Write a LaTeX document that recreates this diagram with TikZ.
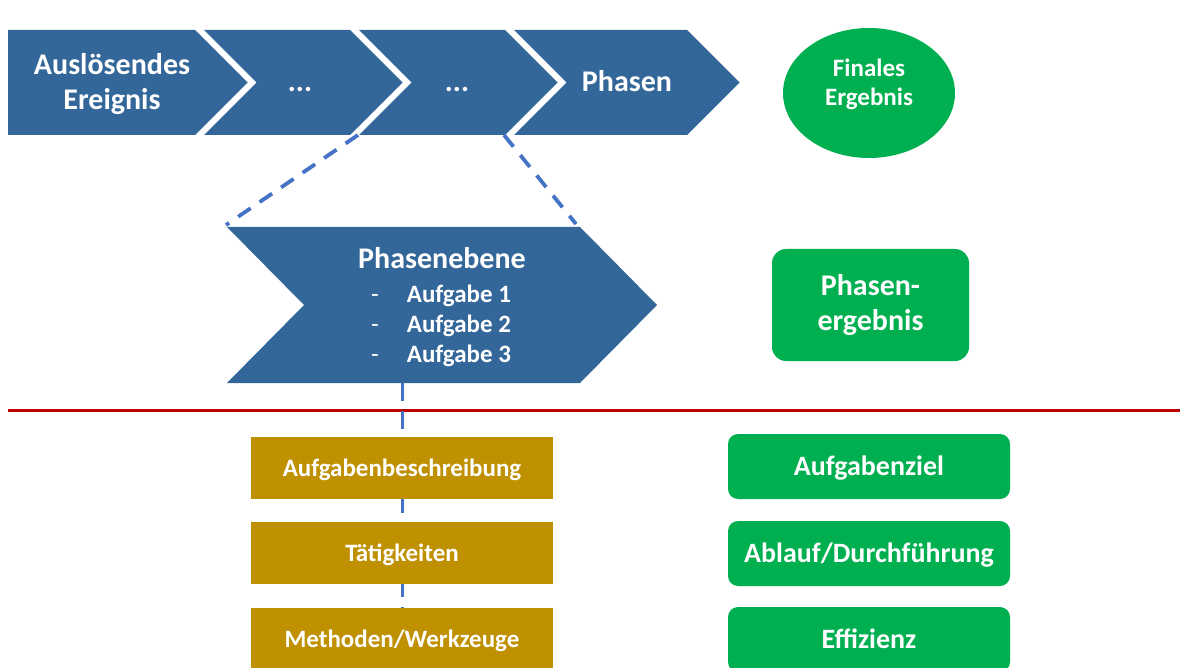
\documentclass[tikz,border=0pt]{standalone}
\usepackage{fontspec}
\setmainfont{Carlito}
\usetikzlibrary{shapes.geometric}
\definecolor{phaseblue}{RGB}{52,103,153}
\definecolor{linkblue}{RGB}{68,114,196}
\definecolor{divred}{RGB}{192,0,0}
\definecolor{taskgold}{RGB}{191,144,0}
\definecolor{resgreen}{RGB}{0,176,80}
\tikzset{
  phase/.style={fill=phaseblue, draw=none},
  lbl/.style={text=white, font=\bfseries, inner sep=0pt},
  zoomlink/.style={draw=linkblue, line width=3.8pt, dash pattern=on 15pt off 11pt},
  tasklink/.style={draw=linkblue, line width=3pt, dash pattern=on 18pt off 10pt},
  taskbox/.style={fill=taskgold, draw=none, minimum width=302pt, minimum height=62pt,
    text=white, font=\bfseries\fontsize{25}{30}\selectfont, text height=17pt, text depth=0pt, inner sep=0pt},
  resbox/.style={fill=resgreen, draw=none, rounded corners=10pt, minimum width=282pt, minimum height=65pt,
    text=white, font=\bfseries\fontsize{28}{32}\selectfont, text height=18pt, text depth=0pt, inner sep=0pt},
}
\begin{document}
\begin{tikzpicture}[x=1pt,y=-1pt]
\useasboundingbox (0,0) rectangle (1180,668);

% process chain: trigger and phases
\path[phase] (8,30) -- (195,30) -- (247.5,82.5) -- (195,135) -- (8,135) -- cycle;
\path[phase] (204,30) -- (350,30) -- (402.5,82.5) -- (350,135) -- (204,135) -- (256.5,82.5) -- cycle;
\path[phase] (359,30) -- (505,30) -- (557.5,82.5) -- (505,135) -- (359,135) -- (411.5,82.5) -- cycle;
\path[phase] (514,30) -- (687,30) -- (739.5,82.5) -- (687,135) -- (514,135) -- (566.5,82.5) -- cycle;
\coordinate (p3bl) at (358,135);
\coordinate (p3br) at (504,135);

\node[lbl, anchor=base, align=center, font=\bfseries\fontsize{30}{35}\selectfont] (trigger) at (112,110) {Auslösendes\\Ereignis};
\node[lbl, anchor=base, font=\bfseries\fontsize{30}{35}\selectfont] (ph2) at (300,92) {...};
\node[lbl, anchor=base, font=\bfseries\fontsize{30}{35}\selectfont] (ph3) at (457,92) {...};
\node[lbl, anchor=base, font=\bfseries\fontsize{30}{35}\selectfont] (ph4) at (627,92) {Phasen};

% final result
\node[ellipse, fill=resgreen, draw=none, minimum width=172pt, minimum height=130pt, inner sep=0pt] (final) at (869,93) {};
\node[lbl, anchor=base, align=center, font=\bfseries\fontsize{25}{29}\selectfont] (finaltext) at (869,106) {Finales\\Ergebnis};

% phase level detail
\path[phase] (227,227) -- (580,227) -- (657,305) -- (580,383) -- (227,383) -- (304,305) -- cycle;
\coordinate (petl) at (226,225);
\coordinate (petr) at (576,224);
\coordinate (pebot) at (402,383);
\node[lbl, anchor=base, font=\bfseries\fontsize{30}{30}\selectfont] (petitle) at (442,269) {Phasenebene};
\node[lbl, anchor=base west, align=left, font=\bfseries\fontsize{25}{30}\selectfont] (petasks) at (371,362)
  {{\mdseries -}\hspace{28pt}Aufgabe 1\\{\mdseries -}\hspace{28pt}Aufgabe 2\\{\mdseries -}\hspace{28pt}Aufgabe 3};

\draw[zoomlink] (p3bl) -- (petl);
\draw[zoomlink] (p3br) -- (petr);

% phase result
\node[fill=resgreen, draw=none, rounded corners=14pt, minimum width=197pt, minimum height=112pt,
  text=white, font=\bfseries\fontsize{30}{35}\selectfont, align=center, inner sep=0pt] (phres) at (870.5,305) {Phasen-\\ergebnis};

% divider
\coordinate (divl) at (8,410);
\coordinate (divr) at (1180,410);
\draw[divred, line width=3pt] (divl) -- (divr);

% task level
\coordinate (taskend) at (402,640);
\draw[tasklink] (pebot) -- (taskend);
\node[taskbox] (t1) at (402,468) {Aufgabenbeschreibung};
\node[taskbox] (t2) at (402,553) {Tätigkeiten};
\node[taskbox] (t3) at (402,639) {Methoden/Werkzeuge};

\node[resbox] (r1) at (869,466.5) {Aufgabenziel};
\node[resbox] (r2) at (869,553.5) {Ablauf/Durchführung};
\node[resbox] (r3) at (869,639.5) {Effizienz};
\end{tikzpicture}
\end{document}
